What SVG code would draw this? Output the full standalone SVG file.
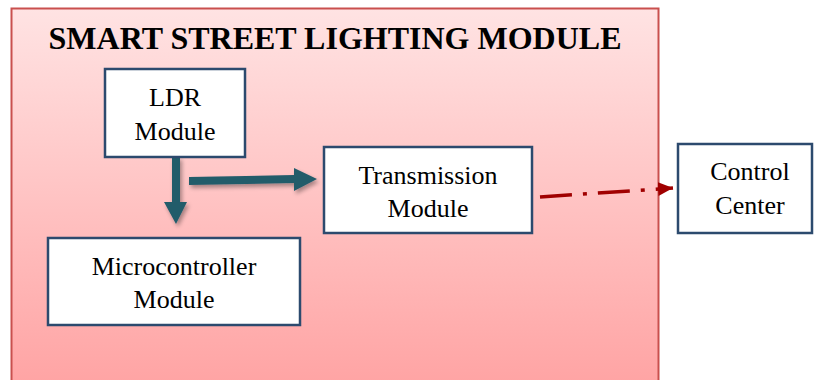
<svg xmlns="http://www.w3.org/2000/svg" width="814" height="380" viewBox="0 0 814 380">
<style>
.box{fill:#ffffff;stroke:#2c4a6e;stroke-width:2.5}
.lbl{font-family:"Liberation Serif","Times New Roman",serif;font-size:26px;fill:#000;text-anchor:middle}
.title{font-family:"Liberation Serif","Times New Roman",serif;font-size:32px;font-weight:bold;fill:#000;text-anchor:middle}
.arw{fill:#235b6b}
</style>
<defs>
<linearGradient id="bg" x1="0" y1="0" x2="0" y2="1">
<stop offset="0" stop-color="#ffe3e3"/>
<stop offset="1" stop-color="#ffa3a3"/>
</linearGradient>
<filter id="sh" x="-20%" y="-20%" width="150%" height="150%">
<feGaussianBlur in="SourceAlpha" stdDeviation="2"/>
<feOffset dx="2" dy="3"/>
<feComponentTransfer><feFuncA type="linear" slope="0.35"/></feComponentTransfer>
<feMerge><feMergeNode/><feMergeNode in="SourceGraphic"/></feMerge>
</filter>
<marker id="redhead" markerWidth="16" markerHeight="14" refX="15" refY="7" orient="auto" markerUnits="userSpaceOnUse">
<path d="M0,0 L15,7 L0,14 z" fill="#a00000"/>
</marker>
</defs>
<g id="module">
<rect x="11.5" y="8.5" width="647" height="380" fill="url(#bg)" stroke="#c9504e" stroke-width="2"/>
<text class="title" x="335" y="49">SMART STREET LIGHTING MODULE</text>
</g>
<g id="connectors">
<path class="arw" filter="url(#sh)" d="M172,157 L180,157 L180,202 L187,202 L176,224 L164,202 L172,202 z"/>
<path class="arw" filter="url(#sh)" d="M189,177 L294,175 L294,168 L317,179 L294,191 L294,183 L189,185 z"/>
<line x1="540" y1="197" x2="673" y2="188" stroke="#a00000" stroke-width="3.5" stroke-dasharray="32,11,4,11" marker-end="url(#redhead)"/>
</g>
<g id="ldr">
<rect class="box" x="105" y="69" width="140" height="88"/>
<text class="lbl" x="175" y="106">LDR</text>
<text class="lbl" x="175" y="140">Module</text>
</g>
<g id="transmission">
<rect class="box" x="324" y="147" width="208" height="86"/>
<text class="lbl" x="428" y="184">Transmission</text>
<text class="lbl" x="428" y="217">Module</text>
</g>
<g id="microcontroller">
<rect class="box" x="48" y="238" width="252" height="87"/>
<text class="lbl" x="174" y="275">Microcontroller</text>
<text class="lbl" x="174" y="308">Module</text>
</g>
<g id="control">
<rect class="box" x="678" y="144" width="134" height="89"/>
<text class="lbl" x="750" y="180">Control</text>
<text class="lbl" x="750" y="214">Center</text>
</g>
</svg>
